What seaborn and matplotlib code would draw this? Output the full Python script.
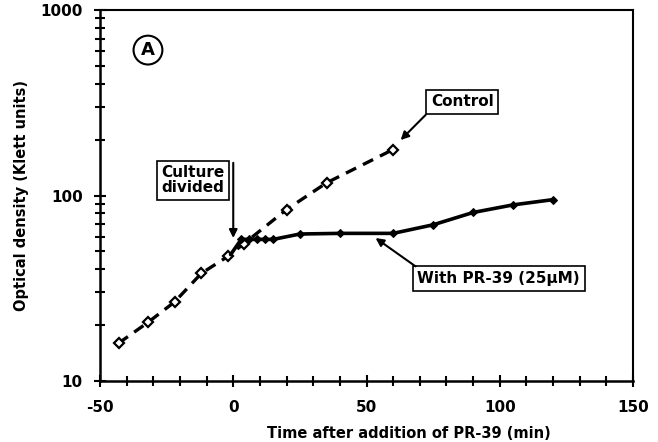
import numpy as np
import pandas as pd
import matplotlib
matplotlib.use("Agg")
import matplotlib.pyplot as plt
from matplotlib.ticker import FixedLocator, FixedFormatter, NullFormatter
import seaborn as sns

# Data
control_time = [-43, -32, -22, -12, -2, 4, 20, 35, 60]
control_od = [16, 20.7, 26.7, 38, 47, 55, 84, 117, 177]

pr39_time = [-1, 3, 6, 9, 12, 15, 25, 40, 60, 75, 90, 105, 120]
pr39_od = [48, 58, 58, 58, 58, 58, 62, 62.5, 62.5, 69.5, 81, 89, 95]

x_ticks = [-50, 0, 50, 100, 150]
x_tick_labels = ["-50", "0", "50", "100", "150"]
y_ticks = [10, 100, 1000]
y_tick_labels = ["10", "100", "1000"]

sns.set_style("ticks")
plt.rcParams["font.family"] = ["DejaVu Sans"]
plt.rcParams["font.weight"] = "bold"
plt.rcParams["text.color"] = "black"
plt.rcParams["axes.labelcolor"] = "black"
plt.rcParams["xtick.color"] = "black"
plt.rcParams["ytick.color"] = "black"
plt.rcParams["axes.edgecolor"] = "black"

fig = plt.figure(figsize=(6.58, 4.42), dpi=100)
ax = fig.add_axes([100 / 658, 1 - 381 / 442, (633 - 100) / 658, (381 - 10) / 442])

ctrl = pd.DataFrame({"time": control_time, "od": control_od})
pr = pd.DataFrame({"time": pr39_time, "od": pr39_od})

sns.lineplot(data=ctrl, x="time", y="od", ax=ax, color="black", linewidth=2.4,
             linestyle=(0, (3.4, 2.3)), marker="D", markersize=5,
             markerfacecolor="white", markeredgecolor="black", markeredgewidth=1.6,
             sort=False, estimator=None)
sns.lineplot(data=pr, x="time", y="od", ax=ax, color="black", linewidth=2.6,
             marker="D", markersize=4.5, markerfacecolor="black",
             markeredgecolor="black", markevery=list(range(1, len(pr39_time))),
             sort=False, estimator=None)

ax.set_yscale("log")
ax.set_xlim(-50, 150)
ax.set_ylim(10, 1000)

ax.xaxis.set_major_locator(FixedLocator(x_ticks))
ax.xaxis.set_major_formatter(FixedFormatter(x_tick_labels))
ax.xaxis.set_minor_locator(FixedLocator(list(range(-50, 151, 10))))
ax.yaxis.set_major_locator(FixedLocator(y_ticks))
ax.yaxis.set_major_formatter(FixedFormatter(y_tick_labels))
minor_y = [m * d for d in (10, 100) for m in range(2, 10)]
ax.yaxis.set_minor_locator(FixedLocator(minor_y))
ax.yaxis.set_minor_formatter(NullFormatter())

ax.tick_params(which="major", direction="inout", length=9, width=1.5,
               labelsize=11, colors="black")
ax.tick_params(which="minor", direction="inout", length=6.5, width=1.5, colors="black")
ax.tick_params(axis="x", which="major", pad=9)
ax.tick_params(axis="y", which="major", pad=8)
for lbl in ax.get_xticklabels() + ax.get_yticklabels():
    lbl.set_fontweight("bold")

for side in ["left", "bottom"]:
    ax.spines[side].set_linewidth(1.8)
for side in ["top", "right"]:
    ax.spines[side].set_visible(True)
    ax.spines[side].set_linewidth(1.5)

ax.set_xlabel("Time after addition of PR-39 (min)", fontsize=10.5, fontweight="bold",
              labelpad=2, color="black")
ax.xaxis.set_label_coords(0.58, -0.12)
ax.set_ylabel("Optical density (Klett units)", fontsize=10.5, fontweight="bold",
              labelpad=8, color="black")

box = dict(boxstyle="square,pad=0.3", fc="white", ec="black", lw=1.2)
arrow = dict(arrowstyle="-|>", color="black", lw=1.5, mutation_scale=12, shrinkA=0, shrinkB=0)

ax.text(86, 320, "Control", ha="center", va="center", fontsize=11, fontweight="bold",
        bbox=box, color="black")
ax.annotate("", xy=(62.8, 199), xytext=(72.2, 272), arrowprops=arrow)

ax.text(-15, 121, "Culture\ndivided", ha="center", va="center", multialignment="center",
        fontsize=11, fontweight="bold", bbox=box, linespacing=1.0, color="black")
ax.annotate("", xy=(0, 59), xytext=(0, 150), arrowprops=arrow)

ax.text(99.6, 35.7, "With PR-39 (25\u00b5M)", ha="center", va="center", fontsize=11,
        fontweight="bold", bbox=box, color="black")
ax.annotate("", xy=(53.4, 59), xytext=(68.4, 41.5), arrowprops=arrow)

ax.text(-32, 608, "A", ha="center", va="center", fontsize=13, fontweight="bold", color="black",
        bbox=dict(boxstyle="circle,pad=0.3", fc="white", ec="black", lw=1.5))

fig.savefig("out.png", dpi=100)
